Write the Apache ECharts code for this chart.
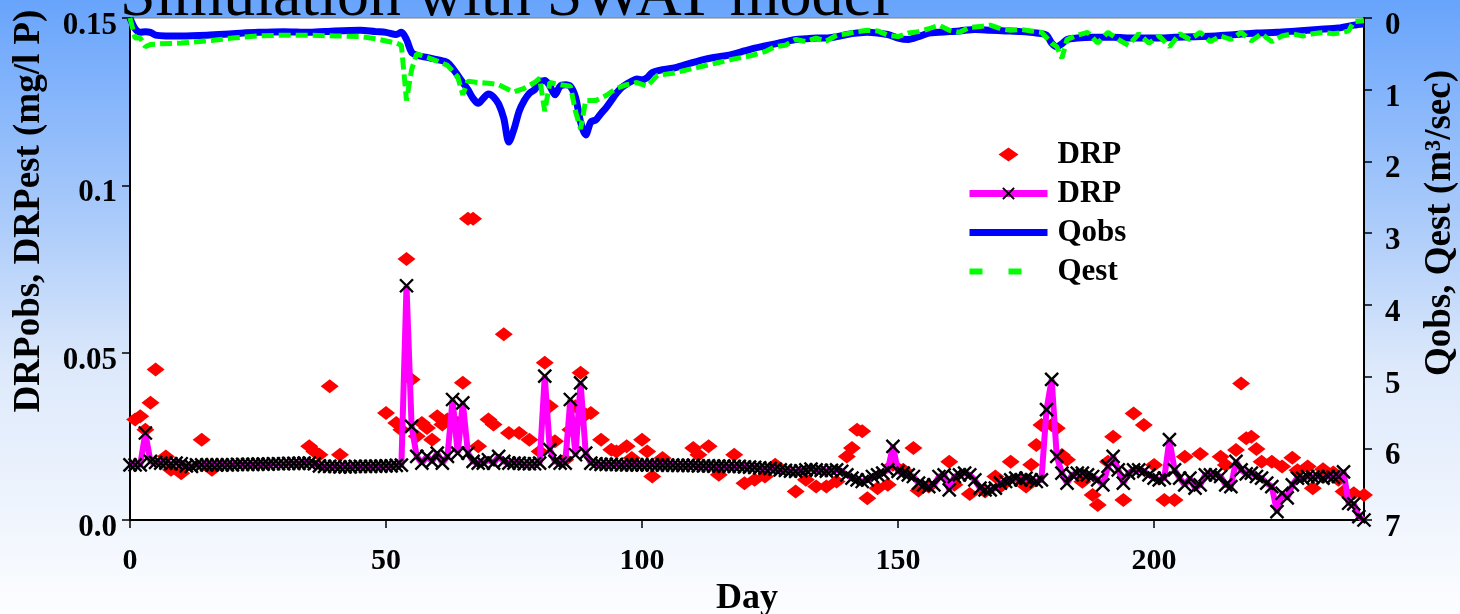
<!DOCTYPE html>
<html>
<head>
<meta charset="utf-8">
<title>Simulation with SWAT model</title>
<script src="https://cdn.jsdelivr.net/npm/echarts@6/dist/echarts.min.js"></script>
<style>
  html, body { margin: 0; padding: 0; }
  #chart { width: 1460px; height: 614px; }
</style>
</head>
<body>
<div id="chart"></div>
<script>
// DRP estimated, one value per day (day = index)
var drpEst = [
  .0165,.0165,.0165,.026,.0175,.0172,.017,.017,.0168,.017,
  .0168,.0162,.016,.0165,.0165,.0165,.0165,.0165,.0165,.0165,
  .0165,.0166,.0166,.0166,.0166,.0167,.0167,.0167,.0168,.0168,
  .0168,.0169,.0169,.0169,.017,.017,.0168,.0162,.016,.016,
  .016,.0159,.0159,.0159,.016,.016,.016,.016,.0161,.0161,
  .0162,.0162,.0163,.0164,.070,.028,.019,.017,.019,.0175,
  .020,.017,.019,.036,.020,.035,.020,.0175,.017,.017,
  .018,.017,.019,.0175,.017,.017,.017,.0168,.0168,.0168,
  .017,.043,.021,.0175,.017,.017,.036,.0195,.041,.020,
  .017,.0168,.0166,.0166,.0166,.0166,.0165,.0165,.0165,.0165,
  .0165,.0165,.0165,.0164,.0164,.0164,.0164,.0163,.0163,.0163,
  .0163,.0162,.0162,.0162,.0161,.0161,.0161,.016,.016,.016,
  .0159,.0158,.0157,.0156,.0155,.0154,.0152,.015,.0148,.0146,
  .0145,.0147,.015,.0152,.015,.0148,.0146,.0148,.015,.0145,
  .0135,.0125,.012,.0115,.012,.013,.0135,.014,.015,.022,
  .0145,.014,.0135,.013,.011,.0105,.010,.0105,.013,.0135,
  .009,.013,.0135,.014,.0135,.012,.0095,.009,.009,.0095,
  .011,.0115,.012,.0125,.012,.0125,.012,.0115,.012,.033,
  .042,.019,.014,.011,.0135,.014,.014,.0135,.013,.012,
  .0105,.016,.019,.015,.011,.014,.015,.015,.0145,.0135,
  .0125,.012,.0125,.024,.015,.0125,.0105,.0125,.0095,.0105,
  .0135,.0135,.0135,.013,.0105,.010,.0175,.015,.0138,.014,
  .013,.0125,.011,.010,.0025,.008,.0066,.0105,.0125,.0125,
  .013,.0128,.013,.0125,.013,.0128,.013,.0144,.005,.0048,
  .001,0
];

// DRP observed [day, mg/l P]
var drpObs = [
  [1,.030],[2,.031],[3,.027],[4,.035],[5,.045],[7,.019],[8,.015],[10,.014],[14,.024],[16,.015],
  [35,.022],[36,.0205],[37,.0195],[39,.040],[41,.0195],[50,.032],[52,.029],[53,.027],[54,.078],[55,.042],
  [56,.025],[57,.029],[58,.0275],[59,.024],[60,.031],[61,.0285],[62,.030],[64,.029],[65,.041],[66,.090],
  [67,.090],[68,.022],[70,.030],[71,.0285],[73,.0555],[74,.026],[76,.026],[78,.024],[80,.0205],[81,.047],
  [82,.034],[83,.0235],[85,.018],[86,.027],[87,.034],[88,.044],[89,.0315],[90,.032],[92,.024],[94,.021],
  [95,.0205],[97,.022],[98,.0185],[100,.024],[101,.0205],[102,.013],[104,.0185],[110,.0215],[111,.0195],[113,.022],
  [115,.0135],[118,.0195],[120,.011],[122,.012],[124,.013],[126,.0165],[130,.0085],[132,.012],[134,.010],[136,.010],
  [138,.0115],[140,.019],[141,.0215],[142,.027],[143,.0265],[144,.0065],[146,.0095],[148,.0105],[149,.0165],[151,.015],
  [153,.0215],[154,.0088],[156,.010],[160,.0174],[161,.0105],[164,.0078],[167,.0085],[169,.013],[170,.010],[172,.0174],
  [174,.012],[175,.010],[176,.0165],[177,.0224],[178,.0284],[180,.0284],[181,.0274],[182,.0194],[183,.018],[186,.0114],
  [188,.0075],[189,.0045],[191,.0174],[192,.0249],[194,.006],[196,.0318],[198,.0284],[200,.0164],[202,.006],[204,.006],
  [206,.0189],[209,.0197],[213,.0189],[214,.0164],[216,.0209],[217,.0408],[218,.0244],[219,.0249],[220,.0212],[221,.0174],
  [223,.0174],[225,.016],[227,.0186],[228,.0149],[230,.016],[231,.0095],[233,.0152],[235,.0142],[236,.012],[237,.0085],
  [239,.008],[241,.0075]
];

// observed flow [day, m3/sec]
var qObs = [
  [0,0],[1,0.15],[2,0.2],[3,0.19],[4,0.2],[5,0.24],[7,0.25],[10,0.25],[15,0.24],[20,0.22],
  [25,0.2],[30,0.19],[35,0.2],[40,0.18],[45,0.17],[48,0.19],[50,0.2],[52,0.23],[53,0.2],[54,0.3],
  [55,0.48],[56,0.52],[58,0.55],[60,0.58],[62,0.62],[63,0.7],[64,0.8],[65,0.9],[66,1.0],[67,1.12],
  [68,1.19],[69,1.12],[70,1.06],[71,1.1],[72,1.2],[73,1.4],[74,1.73],[75,1.55],[76,1.3],[77,1.15],
  [78,1.05],[79,1.0],[80,0.9],[81,0.87],[82,0.95],[83,1.07],[84,0.95],[85,0.93],[86,0.95],[87,1.1],
  [88,1.45],[89,1.63],[90,1.45],[91,1.42],[92,1.33],[93,1.25],[94,1.15],[95,1.05],[96,0.97],[97,0.92],
  [98,0.88],[99,0.85],[100,0.86],[101,0.83],[102,0.76],[104,0.72],[106,0.7],[108,0.66],[110,0.62],[112,0.58],
  [114,0.55],[116,0.53],[118,0.5],[120,0.46],[122,0.42],[124,0.39],[126,0.36],[128,0.33],[130,0.3],[132,0.29],
  [134,0.28],[136,0.28],[138,0.26],[140,0.23],[142,0.21],[144,0.2],[146,0.21],[148,0.23],[150,0.28],[152,0.3],
  [154,0.26],[156,0.21],[158,0.2],[160,0.19],[162,0.18],[165,0.16],[168,0.17],[171,0.18],[174,0.19],[177,0.21],
  [179,0.24],[180,0.35],[181,0.4],[182,0.36],[183,0.3],[185,0.28],[188,0.27],[192,0.27],[196,0.28],[200,0.28],
  [204,0.27],[208,0.26],[212,0.25],[216,0.23],[220,0.21],[224,0.2],[228,0.18],[232,0.16],[236,0.14],[239,0.1],
  [241,0.08]
];

// estimated flow [day, m3/sec]
var qEst = [
  [0,0],[1,0.28],[2,0.28],[3,0.4],[4,0.37],[6,0.36],[10,0.35],[15,0.32],[20,0.28],[25,0.25],
  [30,0.24],[35,0.24],[40,0.25],[45,0.26],[48,0.29],[50,0.32],[52,0.35],[53,0.38],[54,1.15],[55,0.72],
  [56,0.5],[58,0.55],[60,0.6],[62,0.66],[64,0.82],[65,1.07],[66,0.88],[68,0.9],[70,0.91],[72,0.93],
  [74,1.0],[75,1.03],[77,0.98],[79,0.9],[80,0.84],[81,1.3],[82,0.9],[84,0.93],[86,0.95],[87,1.3],
  [88,1.55],[89,1.15],[91,1.15],[93,1.08],[95,0.98],[97,0.93],[99,0.9],[101,0.95],[103,0.8],[106,0.77],
  [109,0.72],[112,0.67],[115,0.62],[118,0.57],[121,0.53],[124,0.47],[126,0.4],[128,0.38],[130,0.3],[132,0.33],
  [134,0.28],[136,0.32],[138,0.24],[140,0.22],[142,0.19],[144,0.17],[146,0.18],[148,0.24],[150,0.26],[152,0.21],
  [154,0.19],[156,0.15],[158,0.1],[160,0.17],[162,0.2],[164,0.13],[166,0.12],[168,0.1],[170,0.15],[172,0.17],
  [174,0.16],[176,0.18],[178,0.2],[180,0.35],[181,0.4],[182,0.56],[183,0.3],[185,0.24],[187,0.2],[189,0.35],
  [191,0.2],[193,0.3],[195,0.38],[197,0.22],[199,0.35],[201,0.25],[203,0.4],[205,0.22],[207,0.3],[209,0.2],
  [211,0.33],[213,0.25],[215,0.3],[217,0.2],[219,0.32],[221,0.22],[223,0.33],[225,0.25],[227,0.22],[229,0.25],
  [231,0.22],[233,0.2],[235,0.22],[237,0.2],[238,0.18],[239,0.05],[241,0.04]
];

var FONT = '"Liberation Serif", "Times New Roman", serif';
var tickFont = { fontFamily: FONT, fontWeight: 'bold', fontSize: 30, color: '#000' };
// y tick labels sit a little below their ticks in the original
var yTickRich = { t: Object.assign({ padding: [16, 0, 0, 0] }, tickFont, { fontSize: 31 }) };

var chart = echarts.init(document.getElementById('chart'));

var option = {
  animation: false,
  backgroundColor: {
    type: 'linear', x: 0, y: 0, x2: 0, y2: 1,
    colorStops: [
      { offset: 0, color: '#68a4fc' },
      { offset: 0.35, color: '#a9cafa' },
      { offset: 0.6, color: '#dde9fb' },
      { offset: 1, color: '#fcfdff' }
    ]
  },
  graphic: [{
    type: 'text', left: 120, top: -34, z: 0,
    style: { text: 'Simulation with SWAT model', font: 'normal 64px ' + FONT, fill: '#000' }
  }, {
    // left axis title
    type: 'text', x: 29, y: 211, rotation: Math.PI / 2,
    style: { text: 'DRPobs, DRPest (mg/l P)', font: 'bold 37px ' + FONT, fill: '#000',
             align: 'center', verticalAlign: 'middle' }
  }, {
    // right axis title
    type: 'text', x: 1440, y: 223, rotation: Math.PI / 2,
    style: { text: 'Qobs, Qest (m\u00b3/sec)', font: 'bold 37px ' + FONT, fill: '#000',
             align: 'center', verticalAlign: 'middle' }
  }],
  grid: {
    left: 130, right: 96, top: 18, bottom: 94,
    outerBoundsMode: 'none',
    show: true, backgroundColor: '#fff', borderColor: '#808080', borderWidth: 1
  },
  legend: {
    orient: 'vertical', left: 966, top: 139, padding: 0,
    itemWidth: 78, itemHeight: 14, itemGap: 8,
    selectedMode: false, symbolKeepAspect: true,
    textStyle: { fontFamily: FONT, fontWeight: 'bold', fontSize: 31, color: '#000', lineHeight: 31,
                 padding: [0, 0, 0, 5] },
    formatter: function (n) { return n.trim(); },
    data: [
      { name: 'DRP', icon: 'path://M0,0L0,0M29,7L39,0L49,7L39,14ZM78,14L78,14' },
      { name: 'DRP ', lineStyle: { width: 7 } },
      { name: 'Qobs', lineStyle: { width: 7 }, itemStyle: { opacity: 0 } },
      { name: 'Qest', lineStyle: { width: 6, type: [13, 26] }, itemStyle: { opacity: 0 } }
    ]
  },
  xAxis: {
    type: 'value', min: 0, max: 241, interval: 50,
    name: 'Day', nameLocation: 'middle', nameGap: 59,
    nameTextStyle: { fontFamily: FONT, fontWeight: 'bold', fontSize: 36, color: '#000' },
    axisLine: { lineStyle: { color: '#000', width: 2 } },
    axisTick: { length: 8, lineStyle: { color: '#000', width: 1.5 } },
    axisLabel: Object.assign({ margin: 26, showMaxLabel: false }, tickFont),
    splitLine: { show: false }
  },
  yAxis: [{
    type: 'value', min: 0, max: 0.15, interval: 0.05, position: 'left',
    axisLine: { show: true, lineStyle: { color: '#000', width: 2 } },
    axisTick: { show: true, length: 8, lineStyle: { color: '#000', width: 1.5 } },
    axisLabel: Object.assign({
      margin: 13, rich: yTickRich,
      formatter: function (v) { return '{t|' + (v === 0 ? '0.0' : String(+v.toFixed(2))) + '}'; }
    }, tickFont, { fontSize: 31 }),
    splitLine: { show: false }
  }, {
    type: 'value', min: 0, max: 7, interval: 1, position: 'right', inverse: true,
    axisLine: { show: true, lineStyle: { color: '#000', width: 2 } },
    axisTick: { show: true, length: 8, lineStyle: { color: '#000', width: 1.5 } },
    axisLabel: Object.assign({
      margin: 21, rich: yTickRich,
      formatter: function (v) { return '{t|' + v + '}'; }
    }, tickFont, { fontSize: 31 }),
    splitLine: { show: false }
  }],
  series: [{
    name: 'DRP', type: 'scatter', yAxisIndex: 0, z: 2,
    symbol: 'diamond', symbolSize: [18, 14],
    itemStyle: { color: '#ff0000', opacity: 1 },
    data: drpObs
  }, {
    name: 'DRP ', type: 'line', yAxisIndex: 0, z: 3,
    data: drpEst.map(function (v, i) { return [i, v]; }),
    lineStyle: { color: '#ff00ff', width: 6 },
    symbol: 'path://M0 0L10 10M10 0L0 10', symbolSize: 13, showAllSymbol: true,
    itemStyle: { color: '#000', borderColor: '#000', borderWidth: 2.4 }
  }, {
    name: 'Qobs', type: 'line', yAxisIndex: 1, z: 4,
    data: qObs, symbol: 'none', smooth: 0.3,
    itemStyle: { color: '#0000ff' },
    lineStyle: { color: '#0000ff', width: 7 }
  }, {
    name: 'Qest', type: 'line', yAxisIndex: 1, z: 5,
    data: qEst, symbol: 'none',
    itemStyle: { color: '#00ff00' },
    lineStyle: { color: '#00ff00', width: 5, type: [12, 5] }
  }]
};

chart.setOption(option);
</script>
</body>
</html>
